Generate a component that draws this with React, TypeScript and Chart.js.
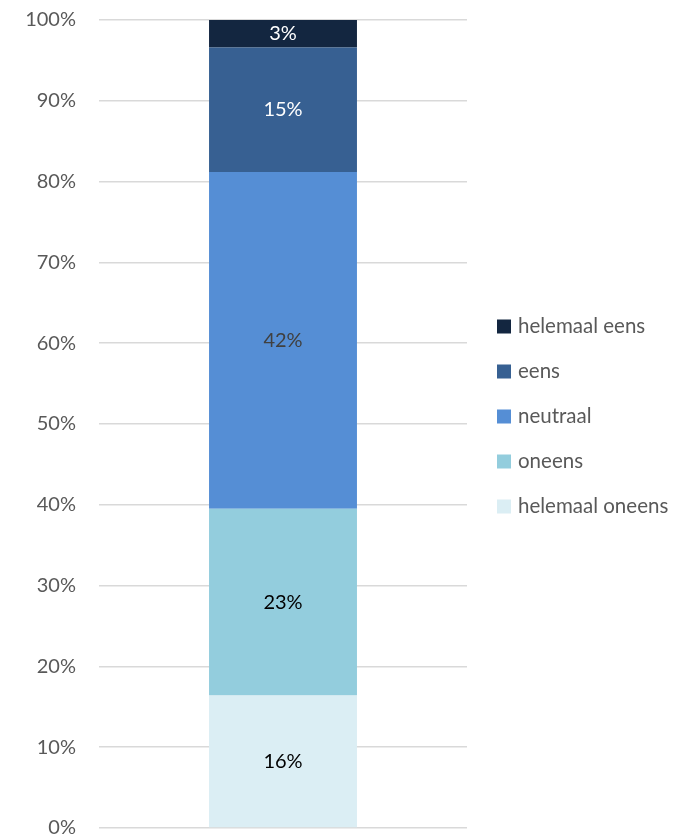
import React, { useEffect, useRef } from "react";
import { Chart, registerables } from "chart.js";

Chart.register(...registerables);

const categories = [""];
const seriesNames = ["helemaal oneens", "oneens", "neutraal", "eens", "helemaal eens"];
const seriesValues = [16.4, 23.1, 41.7, 15.4, 3.4];
const seriesLabels = ["16%", "23%", "42%", "15%", "3%"];
const seriesColors = ["#DBEEF4", "#93CDDD", "#558ED5", "#376092", "#132640"];
const labelColors = ["#000000", "#000000", "#404040", "#FFFFFF", "#FFFFFF"];
const yTicks = [0, 10, 20, 30, 40, 50, 60, 70, 80, 90, 100];

const FONT = "Lato, 'Open Sans', sans-serif";

const dataLabelPlugin = {
  id: "dataLabels",
  afterDatasetsDraw(chart: any) {
    const ctx = chart.ctx;
    ctx.save();
    ctx.font = `20px ${FONT}`;
    ctx.textAlign = "center";
    ctx.textBaseline = "middle";
    chart.data.datasets.forEach((ds: any, i: number) => {
      const meta = chart.getDatasetMeta(i);
      meta.data.forEach((el: any) => {
        const y = (el.y + el.base) / 2;
        ctx.fillStyle = labelColors[i];
        ctx.fillText(seriesLabels[i], el.x, y);
      });
    });
    ctx.restore();
  },
};

const legendPlugin = {
  id: "customLegend",
  afterDraw(chart: any) {
    const ctx = chart.ctx;
    const area = chart.chartArea;
    const ds = chart.data.datasets;
    const n = ds.length;
    const spacing = 45;
    const cy = (area.top + area.bottom) / 2 - 7.5;
    const x = area.right + 30;
    ctx.save();
    ctx.font = `20.5px ${FONT}`;
    ctx.textAlign = "left";
    ctx.textBaseline = "middle";
    for (let k = 0; k < n; k++) {
      const i = n - 1 - k;
      const y = cy + (k - (n - 1) / 2) * spacing;
      ctx.fillStyle = ds[i].backgroundColor;
      ctx.fillRect(x, y - 7, 14, 14);
      ctx.fillStyle = "#595959";
      ctx.fillText(ds[i].label, x + 21, y);
    }
    ctx.restore();
  },
};

export default function App() {
  const ref = useRef<HTMLCanvasElement | null>(null);
  useEffect(() => {
    if (!ref.current) return;
    const chart = new Chart(ref.current, {
      type: "bar",
      data: {
        labels: categories,
        datasets: seriesNames.map((name, i) => ({
          label: name,
          data: [seriesValues[i]],
          backgroundColor: seriesColors[i],
          borderWidth: 0,
          barPercentage: 0.402,
          categoryPercentage: 1,
        })),
      },
      options: {
        animation: false,
        responsive: false,
        maintainAspectRatio: false,
        layout: { padding: { top: 8, right: 220, bottom: 11, left: 0 } },
        plugins: {
          tooltip: { enabled: false },
          legend: { display: false },
        },
        scales: {
          x: {
            stacked: true,
            display: false,
          },
          y: {
            stacked: true,
            min: 0,
            max: 100,
            afterFit: (scale: any) => {
              scale.width = 99;
            },
            afterBuildTicks: (scale: any) => {
              scale.ticks = yTicks.map((v) => ({ value: v }));
            },
            ticks: {
              padding: 23,
              color: "#595959",
              font: { family: FONT, size: 20 },
              callback: (v: any) => `${v}%`,
            },
            grid: {
              color: "#D9D9D9",
              lineWidth: 1.5,
              drawTicks: false,
            },
            border: { display: false },
          },
        },
      },
      plugins: [dataLabelPlugin, legendPlugin],
    });
    return () => chart.destroy();
  }, []);
  return (
    <div style={{ position: "fixed", left: 0, top: 0, width: 687, height: 835, overflow: "hidden", background: "#fff" }}>
      <canvas
        ref={ref}
        width={687}
        height={878}
        style={{ display: "block", position: "absolute", left: 0, top: -15, width: 687, height: 878 }}
      />
    </div>
  );
}
